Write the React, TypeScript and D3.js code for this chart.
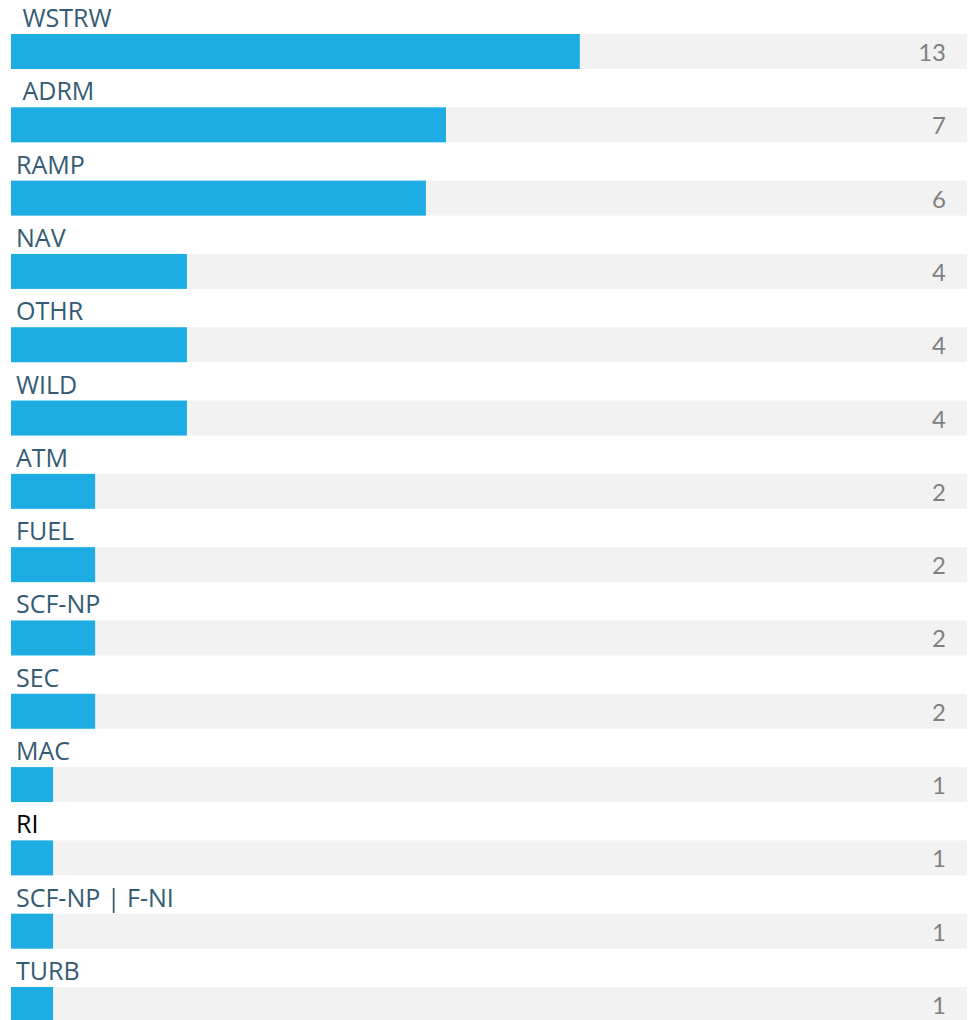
import React from "react";
import * as d3 from "d3";

// Categories (top to bottom)
const categories: string[] = [
  " WSTRW",
  " ADRM",
  "RAMP",
  "NAV",
  "OTHR",
  "WILD",
  "ATM",
  "FUEL",
  "SCF-NP",
  "SEC",
  "MAC",
  "RI",
  "SCF-NP | F-NI",
  "TURB",
];

// Count shown at the right of each row
const counts: number[] = [13, 7, 6, 4, 4, 4, 2, 2, 2, 2, 1, 1, 1, 1];

// Bar length, as percent of the full track
const barLengths: number[] = [59.5, 45.5, 43.4, 18.4, 18.4, 18.4, 8.8, 8.8, 8.8, 8.8, 4.4, 4.4, 4.4, 4.4];

// Categories whose label is drawn in black
const blackLabels: string[] = ["RI"];

const W = 970;
const H = 1020;
const trackLeft = 11;
const trackRight = 967;
const barH = 35;
const firstTop = 34;
const lastTop = 987;

export default function App() {
  const x = d3.scaleLinear().domain([0, 100]).range([trackLeft, trackRight]);
  const y = d3
    .scalePoint<string>()
    .domain(categories)
    .range([firstTop, lastTop]);

  return (
    <svg
      width={W}
      height={H}
      style={{ position: "absolute", left: 0, top: 0, display: "block", background: "#ffffff" }}
    >
      {categories.map((c, i) => {
        const top = y(c) as number;
        const isBlack = blackLabels.includes(c.trim());
        return (
          <g key={c}>
            <rect
              x={x(0)}
              y={top}
              width={x(100) - x(0)}
              height={barH}
              fill="#f2f2f2"
            />
            <rect
              x={x(0)}
              y={top}
              width={x(barLengths[i]) - x(0)}
              height={barH}
              fill="#1eade3"
            />
            <text
              x={16}
              y={top - 7}
              fontFamily="'Open Sans', 'Noto Sans', sans-serif"
              fontSize={25}
              fill={isBlack ? "#000000" : "#345b73"}
              style={{ whiteSpace: "pre" }}
            >
              {c}
            </text>
            <text
              x={946}
              y={top + 27}
              textAnchor="end"
              fontFamily="Lato, 'Open Sans', sans-serif"
              fontSize={24}
              fill="#808080"
            >
              {counts[i]}
            </text>
          </g>
        );
      })}
    </svg>
  );
}
